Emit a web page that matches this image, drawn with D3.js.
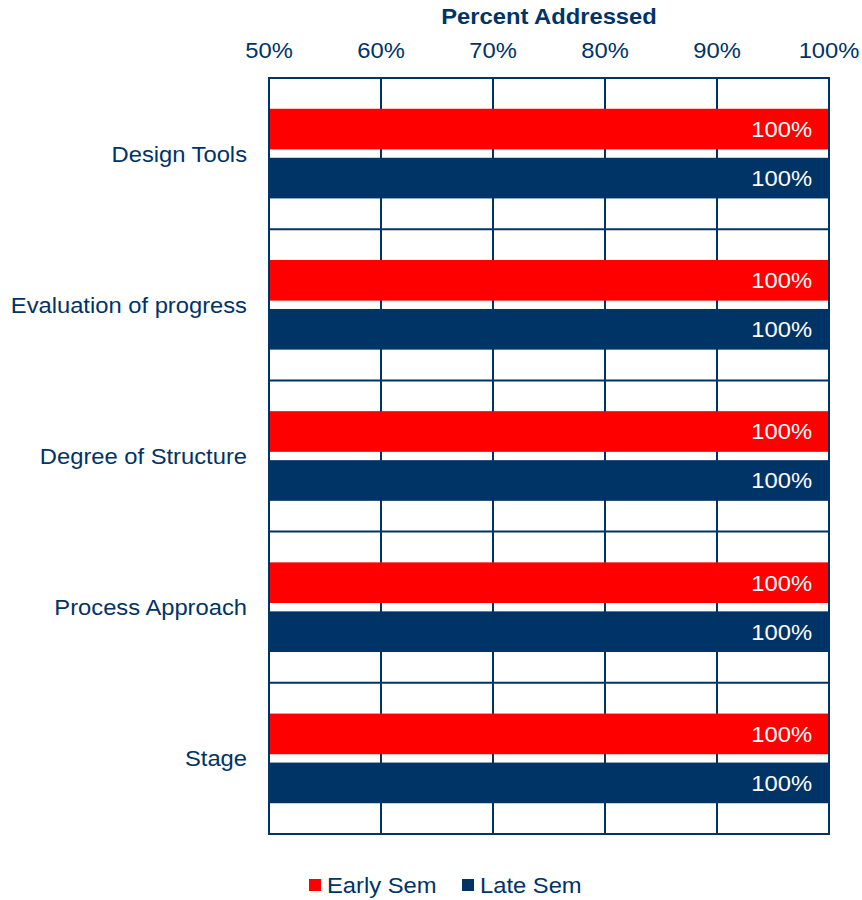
<!DOCTYPE html>
<html>
<head>
<meta charset="utf-8">
<script src="https://cdnjs.cloudflare.com/ajax/libs/d3/7.8.5/d3.min.js"></script>
<style>
  body { margin: 0; background: #fff; }
  text { font-family: "Liberation Sans", Arial, sans-serif; }
</style>
</head>
<body>
<svg id="chart" width="862" height="900"></svg>
<script>
var CATEGORIES = ['Design Tools', 'Evaluation of progress', 'Degree of Structure', 'Process Approach', 'Stage'];
var SERIES = ['Early Sem', 'Late Sem'];
var EARLY = [1.00, 1.00, 1.00, 1.00, 1.00];
var LATE = [1.00, 1.00, 1.00, 1.00, 1.00];
var TICKS = [0.5, 0.6, 0.7, 0.8, 0.9, 1.0];

var NAVY = '#003366';
var COLORS = {'Early Sem': '#ff0000', 'Late Sem': NAVY};
var MARGIN = {'top': 78, 'left': 269, 'right': 33, 'bottom': 66};
var W = 862, H = 900;
var FONTSIZE = 22;
var STRETCH = 1.08; // the source text is a little wider than plain Arial

var svg = d3.select('#chart');
var data = CATEGORIES.map(function(c, i) {
  return {'cat': c, 'vals': [{'s': 'Early Sem', 'v': EARLY[i]}, {'s': 'Late Sem', 'v': LATE[i]}]};
});

var x = d3.scaleLinear().domain([0.5, 1]).range([MARGIN.left, W - MARGIN.right]);
var y = d3.scaleBand().domain(CATEGORIES).range([MARGIN.top, H - MARGIN.bottom]).padding(0);
var ySub = d3.scaleBand().domain(SERIES).range([0, y.bandwidth()]).paddingInner(0.17).paddingOuter(0.628);

function place(sel, fx, fy) {
  return sel.attr('transform', function(d, i) {
    return 'translate(' + fx(d, i) + ',' + fy(d, i) + ') scale(' + STRETCH + ',1)';
  }).attr('dy', '0.36em').style('font-size', FONTSIZE + 'px');
}

// gridlines
var grid = svg.append('g').attr('class', 'grid');
grid.selectAll('line.v').data(TICKS.slice(1, -1)).enter().append('line')
  .attr('x1', function(d) { return x(d); }).attr('x2', function(d) { return x(d); })
  .attr('y1', MARGIN.top).attr('y2', H - MARGIN.bottom)
  .style('stroke', NAVY).style('stroke-width', 2);
grid.selectAll('line.h').data(CATEGORIES.slice(1)).enter().append('line')
  .attr('x1', MARGIN.left).attr('x2', W - MARGIN.right)
  .attr('y1', function(d) { return y(d); }).attr('y2', function(d) { return y(d); })
  .style('stroke', NAVY).style('stroke-width', 2);

// bars
var groups = svg.append('g').selectAll('g').data(data).enter().append('g')
  .attr('transform', function(d) { return 'translate(0,' + y(d.cat) + ')'; });
groups.selectAll('rect').data(function(d) { return d.vals; }).enter().append('rect')
  .attr('x', x(0.5))
  .attr('y', function(d) { return ySub(d.s); })
  .attr('width', function(d) { return x(d.v) - x(0.5); })
  .attr('height', ySub.bandwidth())
  .style('fill', function(d) { return COLORS[d.s]; });
place(groups.selectAll('text').data(function(d) { return d.vals; }).enter().append('text'),
    function(d) { return x(d.v) - 17; },
    function(d) { return ySub(d.s) + ySub.bandwidth() / 2; })
  .attr('text-anchor', 'end')
  .style('fill', '#fff')
  .text(function(d) { return d3.format('.0%')(d.v); });

// frame
svg.append('rect')
  .attr('x', MARGIN.left).attr('y', MARGIN.top)
  .attr('width', W - MARGIN.right - MARGIN.left).attr('height', H - MARGIN.bottom - MARGIN.top)
  .style('fill', 'none').style('stroke', NAVY).style('stroke-width', 2);

// top axis labels
place(svg.append('g').selectAll('text').data(TICKS).enter().append('text'),
    function(d) { return x(d); }, function() { return 50; })
  .attr('text-anchor', 'middle')
  .style('fill', NAVY)
  .text(function(d) { return d3.format('.0%')(d); });

place(svg.append('text').datum('Percent Addressed'),
    function() { return (x(0.5) + x(1)) / 2; }, function() { return 16; })
  .attr('text-anchor', 'middle')
  .style('fill', NAVY).style('font-weight', 'bold')
  .text(function(d) { return d; });

// category labels
place(svg.append('g').selectAll('text').data(CATEGORIES).enter().append('text'),
    function() { return 247; }, function(d) { return y(d) + y.bandwidth() / 2; })
  .attr('text-anchor', 'end')
  .style('fill', NAVY)
  .text(function(d) { return d; });

// legend
var legendX = [309, 462];
var legend = svg.append('g').selectAll('g').data(SERIES).enter().append('g')
  .attr('transform', function(d, i) { return 'translate(' + legendX[i] + ',885)'; });
legend.append('rect').attr('x', 0).attr('y', -6).attr('width', 12).attr('height', 12)
  .style('fill', function(d) { return COLORS[d]; });
place(legend.append('text'), function() { return 18; }, function() { return 0; })
  .style('fill', NAVY)
  .text(function(d) { return d; });
</script>
</body>
</html>
